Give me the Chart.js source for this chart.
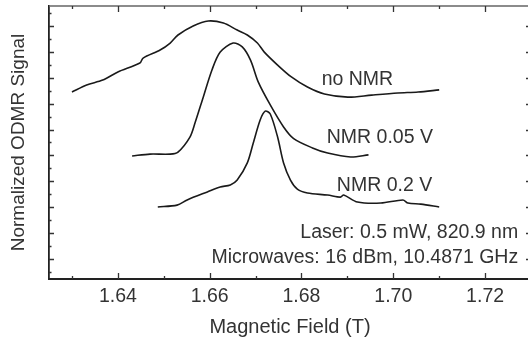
<!DOCTYPE html>
<html>
<head>
<meta charset="utf-8">
<script src="https://cdn.jsdelivr.net/npm/chart.js@4"></script>
<style>
  html, body { margin: 0; padding: 0; background: #fff; overflow: hidden; }
  #wrap { width: 531px; height: 345px; position: relative; }
</style>
</head>
<body>
<div id="wrap"><canvas id="odmrChart"></canvas></div>
<script>
// magnetic field (T) and normalized signal
const noNmrField = [1.630, 1.6332, 1.6367, 1.640, 1.6448, 1.6455, 1.6492, 1.6514, 1.6531, 1.6564, 1.6597, 1.6630, 1.6660, 1.6682, 1.6704, 1.6719, 1.6748, 1.6778, 1.6813, 1.6850, 1.6901, 1.6953, 1.7010, 1.7054, 1.7100];
const noNmrSignal = [6.45, 6.72, 6.91, 7.22, 7.57, 7.76, 8.07, 8.34, 8.65, 9.00, 9.19, 9.11, 8.84, 8.65, 8.34, 7.99, 7.49, 7.03, 6.64, 6.37, 6.25, 6.33, 6.41, 6.45, 6.53];

const nmr005Field = [1.6431, 1.6470, 1.6514, 1.6531, 1.6557, 1.6568, 1.6586, 1.6605, 1.6623, 1.6651, 1.6671, 1.6689, 1.6706, 1.6732, 1.6761, 1.6783, 1.6824, 1.6857, 1.6907, 1.6946];
const nmr005Signal = [3.98, 4.05, 4.05, 4.13, 4.71, 5.25, 6.25, 7.30, 7.99, 8.34, 8.19, 7.68, 6.83, 5.95, 5.10, 4.65, 4.29, 4.09, 3.94, 4.02];

const nmr02Field = [1.6487, 1.6529, 1.6551, 1.6595, 1.6623, 1.6645, 1.6660, 1.6682, 1.6695, 1.6710, 1.6721, 1.6732, 1.6748, 1.6761, 1.6776, 1.6791, 1.6813, 1.6857, 1.6885, 1.6892, 1.6922, 1.6973, 1.7021, 1.7032, 1.7060, 1.7100];
const nmr02Signal = [2.01, 2.08, 2.28, 2.59, 2.78, 2.86, 3.05, 3.71, 4.48, 5.37, 5.71, 5.60, 4.71, 3.71, 3.05, 2.70, 2.55, 2.47, 2.39, 2.47, 2.20, 2.16, 2.28, 2.16, 2.12, 2.01];

const fieldTicks = [1.64, 1.66, 1.68, 1.70, 1.72];
const fieldMinorTicks = [1.63, 1.65, 1.67, 1.69, 1.71];
const signalTicks = [0, 1, 2, 3, 4, 5, 6, 7, 8, 9];
const signalMinorTicks = [-0.5, 0.5, 1.5, 2.5, 3.5, 4.5, 5.5, 6.5, 7.5, 8.5, 9.5];

const curveLabels = ['no NMR', 'NMR 0.05 V', 'NMR 0.2 V'];
// label anchor (field, signal) for each curve label
const curveLabelField = [1.6844, 1.6855, 1.6877];
const curveLabelSignal = [6.91, 4.67, 2.82];
const noteLines = ['Laser: 0.5 mW, 820.9 nm', 'Microwaves: 16 dBm, 10.4871 GHz'];
const noteSignal = [1.0, 0.04];

const FONT = '"Liberation Sans", Arial, Helvetica, sans-serif';
const TEXT = '#333';

function toPoints(xs, ys) {
    return xs.map((x, i) => ({ x: x, y: ys[i] }));
}

// inward ticks on all four sides + top/right frame
const frameTicks = {
    id: 'frameTicks',
    afterDraw(chart) {
        const { ctx, chartArea: a, scales: { x, y } } = chart;
        ctx.save();
        ctx.strokeStyle = '#666';
        ctx.lineWidth = 1.5;
        ctx.beginPath();
        ctx.moveTo(a.left, a.top);
        ctx.lineTo(a.right, a.top);
        ctx.lineTo(a.right, a.bottom);
        ctx.stroke();

        ctx.strokeStyle = '#333';
        ctx.lineWidth = 1.3;
        const hTick = (v, len) => {
            const px = Math.round(x.getPixelForValue(v)) + 0.5;
            ctx.beginPath();
            ctx.moveTo(px, a.bottom); ctx.lineTo(px, a.bottom - len);
            ctx.moveTo(px, a.top); ctx.lineTo(px, a.top + len);
            ctx.stroke();
        };
        const vTick = (v, len) => {
            const py = Math.round(y.getPixelForValue(v)) + 0.5;
            ctx.beginPath();
            ctx.moveTo(a.left, py); ctx.lineTo(a.left + len, py);
            ctx.moveTo(a.right, py); ctx.lineTo(a.right - len, py);
            ctx.stroke();
        };
        fieldTicks.forEach(v => hTick(v, 6));
        fieldMinorTicks.forEach(v => hTick(v, 3));
        signalTicks.forEach(v => vTick(v, 5));
        signalMinorTicks.forEach(v => vTick(v, 2.5));
        ctx.restore();
    },
    afterDatasetsDraw(chart) {
        const { ctx, scales: { x, y } } = chart;
        ctx.save();
        ctx.fillStyle = TEXT;
        ctx.font = '19.5px ' + FONT;
        ctx.textBaseline = 'middle';
        ctx.textAlign = 'left';
        curveLabels.forEach((t, i) => {
            ctx.fillText(t, x.getPixelForValue(curveLabelField[i]), y.getPixelForValue(curveLabelSignal[i]));
        });
        ctx.textAlign = 'right';
        noteLines.forEach((t, i) => {
            ctx.fillText(t, x.getPixelForValue(1.7272), y.getPixelForValue(noteSignal[i]));
        });
        ctx.restore();
    }
};

const ctx = document.getElementById('odmrChart').getContext('2d');

const lineStyle = {
    borderColor: '#1a1a1a',
    borderWidth: 1.6,
    pointRadius: 0,
    fill: false,
    tension: 0.3
};

new Chart(ctx, {
    type: 'line',
    data: {
        datasets: [
            Object.assign({ label: curveLabels[0], data: toPoints(noNmrField, noNmrSignal) }, lineStyle),
            Object.assign({ label: curveLabels[1], data: toPoints(nmr005Field, nmr005Signal) }, lineStyle),
            Object.assign({ label: curveLabels[2], data: toPoints(nmr02Field, nmr02Signal) }, lineStyle)
        ]
    },
    options: {
        responsive: true,
        maintainAspectRatio: false,
        animation: false,
        layout: { padding: { top: 6, right: 0, left: 0, bottom: 0 } },
        plugins: {
            legend: { display: false },
            tooltip: { enabled: false }
        },
        scales: {
            x: {
                type: 'linear',
                min: 1.625,
                max: 1.73,
                afterFit: (scale) => { scale.height = 66; },
                afterBuildTicks: (scale) => { scale.ticks = fieldTicks.map(v => ({ value: v })); },
                grid: { display: false, drawTicks: false },
                border: { display: true, color: '#222', width: 2 },
                ticks: {
                    padding: 6,
                    color: TEXT,
                    font: { family: FONT, size: 19.5 },
                    maxRotation: 0,
                    autoSkip: false,
                    callback: (v) => Number(v).toFixed(2)
                },
                title: {
                    display: true,
                    text: 'Magnetic Field (T)',
                    color: TEXT,
                    font: { family: FONT, size: 20 },
                    padding: { top: 0, bottom: 6 }
                }
            },
            y: {
                min: -0.772,
                max: 9.77,
                afterFit: (scale) => { scale.width = 49; },
                afterBuildTicks: (scale) => { scale.ticks = signalTicks.map(v => ({ value: v })); },
                grid: { display: false, drawTicks: false },
                border: { display: true, color: '#222', width: 1.8 },
                ticks: { display: false },
                title: {
                    display: true,
                    text: 'Normalized ODMR Signal',
                    color: TEXT,
                    font: { family: FONT, size: 19 },
                    padding: { top: 7, bottom: 0 }
                }
            }
        }
    },
    plugins: [frameTicks]
});
</script>
</body>
</html>
